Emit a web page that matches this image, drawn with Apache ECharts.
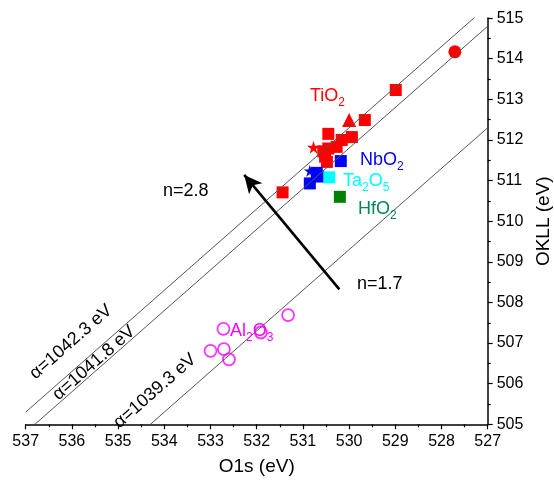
<!DOCTYPE html>
<html>
<head>
<meta charset="UTF-8">
<title>Wagner plot</title>
<script src="https://cdn.jsdelivr.net/npm/echarts@6/dist/echarts.min.js"></script>
<style>
html, body { margin: 0; padding: 0; background: #fff; }
#main { width: 554px; height: 481px; }
</style>
</head>
<body>
<div id="main"></div>
<script type="text/javascript">
    // [O1s, OKLL] in eV
    var tio2Sq = [[528.99, 513.23], [529.66, 512.49], [530.45, 512.15], [529.94, 512.07], [530.16, 512.0],
                  [530.27, 511.83], [530.45, 511.79], [530.52, 511.59], [530.48, 511.46], [530.56, 511.72], [531.44, 510.71]];
    var tio2Circle = [[527.71, 514.17]];
    var tio2Tri = [[530.0, 512.49]];
    var tio2Star = [[530.77, 511.82]];
    var nbo2Sq = [[530.18, 511.48], [530.70, 511.19], [530.67, 511.10], [530.85, 510.93]];
    var nbo2Star = [[530.85, 511.24]];
    var ta2o5Sq = [[530.43, 511.08]];
    var hfo2Sq = [[530.20, 510.60]];
    var al2o3 = [[531.32, 507.69], [532.72, 507.35], [531.91, 507.26], [533.0, 506.81], [532.71, 506.85], [532.6, 506.6]];

    // Auger parameter lines: O1s + OKLL = alpha
    var alphas = [1042.3, 1041.8, 1039.3];
    var lineEnds = [537, 527];

    // arrow from n=1.7 towards n=2.8
    var arrow = [[530.21, 508.32], [532.27, 511.14]];

    var FONT = 'Liberation Sans, Arial, sans-serif';
    var starPath = 'path://M50,0 L61,35 L98,35 L68,57 L79,91 L50,70 L21,91 L32,57 L2,35 L39,35 Z';
    var ang = Math.atan(40.62 / 46.2);

    var myChart = echarts.init(document.getElementById('main'));

    function scatter(data, color, symbol, size, z) {
        return {
            type: 'scatter',
            data: data,
            symbol: symbol,
            symbolSize: size,
            z: z,
            silent: true,
            itemStyle: { color: color, opacity: 1 }
        };
    }

    var series = [];
    series.push(scatter(tio2Sq, '#ff0000', 'rect', 12, 2));
    series.push(scatter(tio2Circle, '#ff0000', 'circle', 13, 2));
    series.push(scatter(tio2Tri, '#ff0000', 'triangle', 14, 2));
    series.push(scatter(tio2Star, '#ff0000', starPath, 13, 2));
    series.push(scatter(nbo2Star, '#0000ff', starPath, 12, 3));
    series.push(scatter(nbo2Sq, '#0000ff', 'rect', 12, 3));
    series.push(scatter(ta2o5Sq, '#00ffff', 'rect', 12, 3));
    var hf = scatter(hfo2Sq, '#008000', 'rect', 12, 3);
    hf.markLine = {
        silent: true,
        symbol: ['none', 'arrow'],
        symbolSize: [13, 18],
        label: { show: false },
        lineStyle: { color: '#000', width: 2.6, type: 'solid' },
        data: [[{ coord: arrow[0] }, { coord: arrow[1] }]]
    };
    series.push(hf);
    series.push({
        type: 'scatter',
        data: al2o3,
        symbol: 'circle',
        symbolSize: 12,
        z: 3,
        silent: true,
        itemStyle: { color: 'none', borderColor: '#ff00ff', borderWidth: 1.8 }
    });

    alphas.forEach(function (a) {
        series.push({
            type: 'line',
            data: lineEnds.map(function (x) { return [x, a - x]; }),
            symbol: 'none',
            clip: true,
            z: 4,
            silent: true,
            lineStyle: { color: '#555', width: 1 }
        });
    });

    function label(x, y, text, color, rich) {
        var st = { text: text, fill: color, font: '18px ' + FONT, align: 'left', verticalAlign: 'middle' };
        if (rich) {
            st.rich = {
                a: { fontSize: 18, fontFamily: FONT, fill: color, lineHeight: 26, verticalAlign: 'middle' },
                s: { fontSize: 12, fontFamily: FONT, fill: color, lineHeight: 26, verticalAlign: 'bottom' }
            };
        }
        return { type: 'text', x: x, y: y, z: 10, style: st };
    }

    function alphaLabel(x, y, text) {
        return {
            type: 'text', x: x, y: y, rotation: ang, z: 10,
            style: { text: text, fill: '#000', font: '18px ' + FONT, align: 'center', verticalAlign: 'middle' }
        };
    }

    var option = {
        animation: false,
        backgroundColor: '#fff',
        grid: { left: 25.7, right: 66.3, top: 18.1, bottom: 56.7, containLabel: false, outerBoundsMode: 'none' },
        xAxis: {
            type: 'value', min: 527, max: 537, interval: 1, inverse: true, position: 'bottom',
            name: 'O1s (eV)', nameLocation: 'middle', nameGap: 33,
            nameTextStyle: { fontSize: 19, color: '#000', fontFamily: FONT },
            axisLine: { show: true, onZero: false, lineStyle: { color: '#000', width: 1.5 } },
            axisTick: { show: true, length: 5, lineStyle: { color: '#000', width: 1.2 } },
            minorTick: { show: true, splitNumber: 2, length: 3, lineStyle: { color: '#000', width: 1.2 } },
            axisLabel: { fontSize: 16, color: '#000', fontFamily: FONT, margin: 9 },
            splitLine: { show: false }
        },
        yAxis: {
            type: 'value', min: 505, max: 515, interval: 1, position: 'right',
            name: 'OKLL (eV)', nameLocation: 'middle', nameGap: 38,
            nameTextStyle: { fontSize: 19, color: '#000', fontFamily: FONT },
            axisLine: { show: true, onZero: false, lineStyle: { color: '#000', width: 1.5 } },
            axisTick: { show: true, length: 5, lineStyle: { color: '#000', width: 1.2 } },
            minorTick: { show: true, splitNumber: 2, length: 3, lineStyle: { color: '#000', width: 1.2 } },
            axisLabel: { fontSize: 16, color: '#000', fontFamily: FONT, margin: 9 },
            splitLine: { show: false }
        },
        graphic: [
            label(310, 96, '{a|TiO}{s|2}', '#ff0000', true),
            label(360, 160, '{a|NbO}{s|2}', '#0000ff', true),
            label(343, 181, '{a|Ta}{s|2}{a|O}{s|5}', '#00ffff', true),
            label(358, 209, '{a|HfO}{s|2}', '#00875a', true),
            label(230, 331, '{a|Al}{s|2}{a|O}{s|3}', '#ff00ff', true),
            label(163, 191, 'n=2.8', '#000', false),
            label(357, 284, 'n=1.7', '#000', false),
            alphaLabel(71, 342, '\u03b1=1042.3 eV'),
            alphaLabel(94, 363, '\u03b1=1041.8 eV'),
            alphaLabel(155, 391, '\u03b1=1039.3 eV')
        ],
        series: series
    };

    myChart.setOption(option);
</script>
</body>
</html>
